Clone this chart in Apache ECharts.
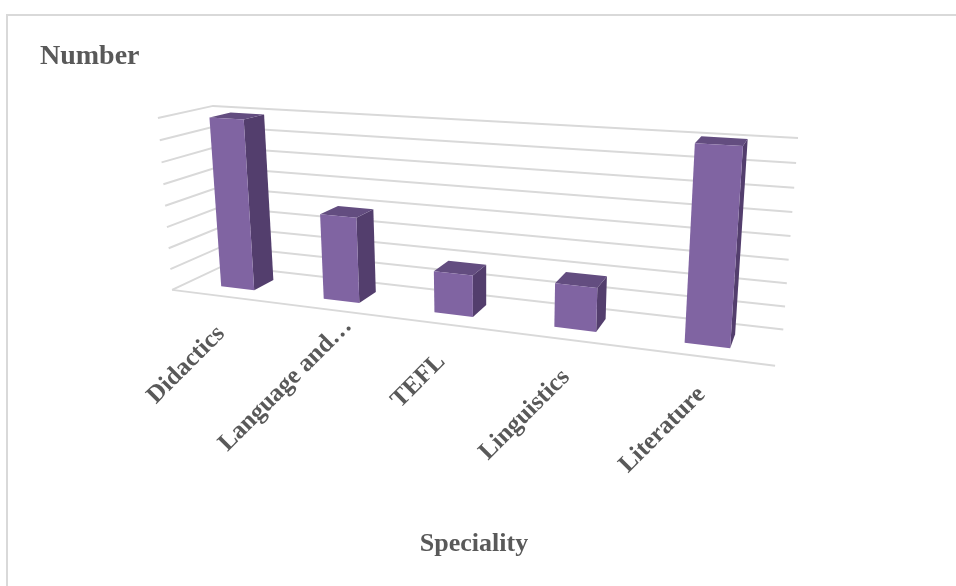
<!DOCTYPE html>
<html>
<head>
<meta charset="utf-8">
<script src="https://cdn.jsdelivr.net/npm/echarts@6/dist/echarts.min.js"></script>
<style>
html, body { margin: 0; padding: 0; background: #fff; }
#chart { width: 956px; height: 586px; }
</style>
</head>
<body>
<div id="chart"></div>
<script>
// ---- data ----
const categories = ['Didactics', 'Language and…', 'TEFL', 'Linguistics', 'Literature'];
const numbers = [39.7, 19.6, 9.3, 9.5, 40.3];
const yTicks = [0, 5, 10, 15, 20, 25, 30, 35, 40];

// ---- 3d frame ----
// world: x = category slots (0..N), y = gridline steps (0..8), z = depth (0 front, 1 back)
// a few screen points of the box, used to fit the perspective camera
const frame = {
  leftFront: [[173, 290], [170, 269], [168, 248], [167, 227], [165, 207], [163, 184], [162, 162], [160, 140], [158, 118]],
  rightBack: [[783, 329], [785, 307], [787, 283], [789, 260], [791, 236], [792, 212], [794, 188], [796, 163], [798, 138]],
  backLeftTop: [213, 106],
  frontRightBottom: [775, 366]
};
const BAR_W = 0.33;   // share of a category slot
const BAR_D = 0.4;    // share of the floor depth
const labelNudge = [0, 30, 0, 0, 0];  // px along the text, the truncated label sits further out
const GRID_COLOR = '#d9d9d9';
const TEXT_COLOR = '#595959';
const FONT = 'Liberation Serif';

const N = categories.length;
const STEPS = yTicks.length - 1;

// fit a 3x4 projection (DLT, least squares)
function fitCamera() {
  const pairs = [];
  frame.leftFront.forEach((p, k) => pairs.push([0, k, 0, p[0], p[1]]));
  frame.rightBack.forEach((p, k) => pairs.push([N, k, 1, p[0], p[1]]));
  pairs.push([0, STEPS, 1, frame.backLeftTop[0], frame.backLeftTop[1]]);
  pairs.push([N, 0, 0, frame.frontRightBottom[0], frame.frontRightBottom[1]]);
  const rows = [], rhs = [];
  pairs.forEach(([X, Y, Z, u, v]) => {
    const un = (u - 480) / 300, vn = (v - 250) / 300;
    rows.push([X, Y, Z, 1, 0, 0, 0, 0, -un * X, -un * Y, -un * Z]); rhs.push(un);
    rows.push([0, 0, 0, 0, X, Y, Z, 1, -vn * X, -vn * Y, -vn * Z]); rhs.push(vn);
  });
  const n = 11;
  const M = [];
  for (let i = 0; i < n; i++) {
    M.push(new Array(n + 1).fill(0));
    for (let r = 0; r < rows.length; r++) {
      for (let j = 0; j < n; j++) M[i][j] += rows[r][i] * rows[r][j];
      M[i][n] += rows[r][i] * rhs[r];
    }
  }
  for (let c = 0; c < n; c++) {
    let piv = c;
    for (let r = c + 1; r < n; r++) if (Math.abs(M[r][c]) > Math.abs(M[piv][c])) piv = r;
    const tmp = M[c]; M[c] = M[piv]; M[piv] = tmp;
    for (let r = 0; r < n; r++) {
      if (r === c) continue;
      const f = M[r][c] / M[c][c];
      for (let k = c; k <= n; k++) M[r][k] -= f * M[c][k];
    }
  }
  return M.map((row, i) => row[n] / row[i]);
}
const cam = fitCamera();

function P(X, Y, Z) {
  const w = cam[8] * X + cam[9] * Y + cam[10] * Z + 1;
  const un = (cam[0] * X + cam[1] * Y + cam[2] * Z + cam[3]) / w;
  const vn = (cam[4] * X + cam[5] * Y + cam[6] * Z + cam[7]) / w;
  return [un * 300 + 480, vn * 300 + 250];
}

// grid pixel -> world units
function worldX(cs, px) { return (px - cs.x) / cs.width * N; }
function worldY(cs, py) { return (cs.y + cs.height - py) / cs.height * STEPS; }

function renderGridLine(params, api) {
  const cs = params.coordSys;
  const y = worldY(cs, api.coord([0, api.value(1)])[1]);
  const style = { stroke: GRID_COLOR, lineWidth: 2, fill: null };
  const children = [{
    type: 'polyline',
    shape: { points: [P(0, y, 0), P(0, y, 1), P(N, y, 1)] },
    style: style
  }];
  if (api.value(1) === yTicks[0]) {
    const a = P(0, 0, 0), b = P(N, 0, 0);
    children.push({ type: 'line', shape: { x1: a[0], y1: a[1], x2: b[0], y2: b[1] }, style: style });
  }
  return { type: 'group', children: children };
}

function renderBar(params, api) {
  const cs = params.coordSys;
  const base = api.coord([api.value(0), 0]);
  const top = api.coord([api.value(0), api.value(1)]);
  const band = api.size([1, 0])[0] / cs.width * N;
  const xc = worldX(cs, base[0]);
  const x0 = xc - band * BAR_W / 2, x1 = xc + band * BAR_W / 2;
  const z0 = 0.5 - BAR_D / 2, z1 = 0.5 + BAR_D / 2;
  const y1 = worldY(cs, top[1]);
  return {
    type: 'group',
    children: [
      { type: 'polygon', shape: { points: [P(x1, 0, z0), P(x1, 0, z1), P(x1, y1, z1), P(x1, y1, z0)] }, style: { fill: '#533e6d' } },
      { type: 'polygon', shape: { points: [P(x0, y1, z0), P(x1, y1, z0), P(x1, y1, z1), P(x0, y1, z1)] }, style: { fill: '#634d80' } },
      { type: 'polygon', shape: { points: [P(x0, 0, z0), P(x1, 0, z0), P(x1, y1, z0), P(x0, y1, z0)] }, style: { fill: '#8064a2' } }
    ]
  };
}

function renderLabel(params, api) {
  const cs = params.coordSys;
  const i = api.value(0);
  const xc = worldX(cs, api.coord([i, 0])[0]);
  const p = P(xc, 0, 0);
  const s = labelNudge[i] * Math.SQRT1_2;
  return {
    type: 'text',
    x: p[0] - 1 + s,
    y: p[1] + 34 - s,
    rotation: Math.PI / 4,
    style: {
      text: categories[i],
      align: 'right',
      verticalAlign: 'middle',
      fill: TEXT_COLOR,
      fontFamily: FONT,
      fontWeight: 'bold',
      fontSize: 25
    }
  };
}

const chart = echarts.init(document.getElementById('chart'));
chart.setOption({
  backgroundColor: '#fff',
  animation: false,
  title: [
    { text: 'Number', left: 40, top: 43, padding: 0, textStyle: { fontFamily: FONT, fontWeight: 'bold', fontSize: 28, color: TEXT_COLOR } },
    { text: 'Speciality', left: 474, top: 531, padding: 0, textAlign: 'center', textStyle: { fontFamily: FONT, fontWeight: 'bold', fontSize: 26, color: TEXT_COLOR } }
  ],
  graphic: [
    { type: 'rect', shape: { x: 7, y: 15, width: 1000, height: 1000 }, style: { fill: null, stroke: GRID_COLOR, lineWidth: 2 } }
  ],
  grid: { left: 0, right: 0, top: 0, bottom: 0 },
  xAxis: { type: 'category', data: categories, show: false },
  yAxis: { type: 'value', min: 0, max: yTicks[yTicks.length - 1], interval: yTicks[1] - yTicks[0], show: false },
  series: [
    { type: 'custom', name: 'grid', clip: false, renderItem: renderGridLine, data: yTicks.map(v => [0, v]), z: 1 },
    { type: 'custom', name: 'Number', clip: false, renderItem: renderBar, data: numbers.map((v, i) => [i, v]), z: 2 },
    { type: 'custom', name: 'labels', clip: false, renderItem: renderLabel, data: categories.map((c, i) => [i, 0]), z: 3 }
  ]
});
</script>
</body>
</html>
